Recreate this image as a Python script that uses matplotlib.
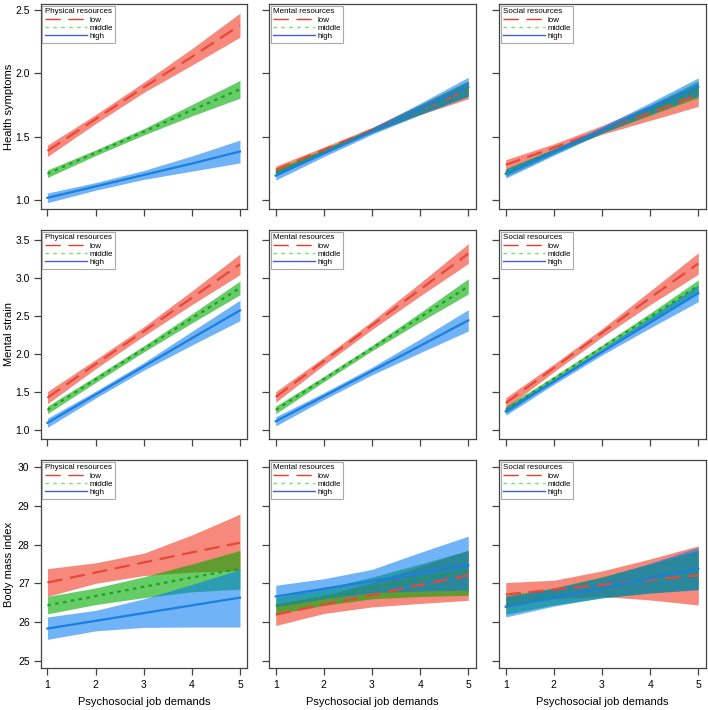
import numpy as np
import matplotlib
matplotlib.use("Agg")
import matplotlib.pyplot as plt
from matplotlib.lines import Line2D

plt.rcParams['font.family'] = ['Liberation Sans', 'DejaVu Sans']
plt.rcParams['lines.scale_dashes'] = False

demands = [1, 2, 3, 4, 5]
levels = ['low', 'middle', 'high']
resources = ['Physical resources', 'Mental resources', 'Social resources']
outcomes = ['Health symptoms', 'Mental strain', 'Body mass index']

# health symptoms: [low, middle, high]
hs_phys_fit = [[1.39, 1.64, 1.89, 2.13, 2.38], [1.21, 1.375, 1.54, 1.71, 1.875], [1.02, 1.11, 1.20, 1.29, 1.385]]
hs_phys_lo = [[1.345, 1.605, 1.85, 2.065, 2.285], [1.18, 1.353, 1.515, 1.665, 1.805], [0.982, 1.08, 1.165, 1.23, 1.295]]
hs_phys_hi = [[1.435, 1.675, 1.93, 2.195, 2.475], [1.24, 1.397, 1.565, 1.755, 1.945], [1.058, 1.14, 1.235, 1.35, 1.475]]
hs_ment_fit = [[1.24, 1.40, 1.555, 1.715, 1.87], [1.22, 1.385, 1.55, 1.715, 1.88], [1.195, 1.37, 1.545, 1.72, 1.895]]
hs_ment_lo = [[1.21, 1.38, 1.535, 1.675, 1.80], [1.195, 1.367, 1.532, 1.68, 1.82], [1.16, 1.345, 1.52, 1.675, 1.82]]
hs_ment_hi = [[1.27, 1.42, 1.575, 1.755, 1.94], [1.245, 1.403, 1.568, 1.75, 1.94], [1.23, 1.395, 1.57, 1.765, 1.97]]
hs_soc_fit = [[1.28, 1.415, 1.555, 1.69, 1.83], [1.22, 1.385, 1.55, 1.71, 1.875], [1.21, 1.38, 1.555, 1.725, 1.895]]
hs_soc_lo = [[1.24, 1.385, 1.52, 1.63, 1.74], [1.19, 1.365, 1.53, 1.67, 1.81], [1.175, 1.355, 1.53, 1.68, 1.825]]
hs_soc_hi = [[1.32, 1.445, 1.59, 1.75, 1.92], [1.25, 1.405, 1.57, 1.75, 1.94], [1.245, 1.405, 1.58, 1.77, 1.965]]

# mental strain
ms_phys_fit = [[1.43, 1.87, 2.30, 2.74, 3.18], [1.27, 1.67, 2.07, 2.47, 2.87], [1.10, 1.47, 1.84, 2.21, 2.575]]
ms_phys_lo = [[1.35, 1.81, 2.24, 2.65, 3.045], [1.22, 1.63, 2.03, 2.41, 2.78], [1.04, 1.425, 1.79, 2.12, 2.44]]
ms_phys_hi = [[1.51, 1.93, 2.36, 2.83, 3.315], [1.32, 1.71, 2.11, 2.53, 2.96], [1.16, 1.515, 1.89, 2.30, 2.71]]
ms_ment_fit = [[1.44, 1.91, 2.38, 2.85, 3.32], [1.27, 1.675, 2.08, 2.485, 2.89], [1.12, 1.45, 1.78, 2.11, 2.445]]
ms_ment_lo = [[1.37, 1.86, 2.325, 2.765, 3.19], [1.22, 1.64, 2.045, 2.425, 2.79], [1.06, 1.405, 1.73, 2.02, 2.305]]
ms_ment_hi = [[1.51, 1.96, 2.435, 2.935, 3.45], [1.32, 1.71, 2.115, 2.545, 2.99], [1.18, 1.495, 1.83, 2.20, 2.585]]
ms_soc_fit = [[1.36, 1.82, 2.28, 2.74, 3.19], [1.27, 1.68, 2.09, 2.49, 2.90], [1.25, 1.64, 2.03, 2.415, 2.80]]
ms_soc_lo = [[1.29, 1.77, 2.225, 2.65, 3.05], [1.225, 1.65, 2.06, 2.44, 2.825], [1.20, 1.605, 1.99, 2.345, 2.69]]
ms_soc_hi = [[1.43, 1.87, 2.335, 2.83, 3.33], [1.315, 1.71, 2.12, 2.54, 2.975], [1.30, 1.675, 2.07, 2.485, 2.91]]

# body mass index
bmi_phys_fit = [[27.02, 27.28, 27.54, 27.80, 28.05], [26.43, 26.67, 26.91, 27.15, 27.38], [25.83, 26.03, 26.23, 26.43, 26.63]]
bmi_phys_lo = [[26.66, 27.0, 27.2, 27.29, 27.33], [26.21, 26.45, 26.63, 26.78, 26.85], [25.55, 25.77, 25.86, 25.87, 25.87]]
bmi_phys_hi = [[27.38, 27.53, 27.78, 28.25, 28.79], [26.66, 26.88, 27.17, 27.5, 27.85], [26.13, 26.3, 26.6, 26.97, 27.36]]
bmi_ment_fit = [[26.19, 26.45, 26.70, 26.96, 27.21], [26.42, 26.65, 26.88, 27.11, 27.34], [26.66, 26.86, 27.06, 27.27, 27.47]]
bmi_ment_lo = [[25.91, 26.22, 26.39, 26.48, 26.56], [26.2, 26.43, 26.6, 26.66, 26.69], [26.39, 26.6, 26.76, 26.8, 26.82]]
bmi_ment_hi = [[26.47, 26.68, 27.02, 27.44, 27.86], [26.64, 26.87, 27.16, 27.5, 27.85], [26.95, 27.12, 27.36, 27.8, 28.22]]
bmi_soc_fit = [[26.71, 26.84, 26.96, 27.09, 27.21], [26.43, 26.66, 26.89, 27.12, 27.35], [26.39, 26.64, 26.89, 27.13, 27.38]]
bmi_soc_lo = [[26.4, 26.6, 26.66, 26.57, 26.44], [26.2, 26.44, 26.62, 26.75, 26.85], [26.13, 26.41, 26.63, 26.75, 26.83]]
bmi_soc_hi = [[27.02, 27.08, 27.32, 27.63, 27.97], [26.68, 26.88, 27.17, 27.5, 27.85], [26.65, 26.87, 27.15, 27.52, 27.93]]

panels = [
    [(hs_phys_fit, hs_phys_lo, hs_phys_hi), (hs_ment_fit, hs_ment_lo, hs_ment_hi), (hs_soc_fit, hs_soc_lo, hs_soc_hi)],
    [(ms_phys_fit, ms_phys_lo, ms_phys_hi), (ms_ment_fit, ms_ment_lo, ms_ment_hi), (ms_soc_fit, ms_soc_lo, ms_soc_hi)],
    [(bmi_phys_fit, bmi_phys_lo, bmi_phys_hi), (bmi_ment_fit, bmi_ment_lo, bmi_ment_hi), (bmi_soc_fit, bmi_soc_lo, bmi_soc_hi)],
]

yticks = [[1.0, 1.5, 2.0, 2.5], [1.0, 1.5, 2.0, 2.5, 3.0, 3.5], [25, 26, 27, 28, 29, 30]]
ylims = [(0.932, 2.547), (0.888, 3.63), (24.81, 30.19)]

line_cols = ['#E8473B', '#1F9F2A', '#1A7FE0']
band_cols = ['#F02810', '#00AA00', '#0078F0']
band_alpha = [0.55, 0.6, 0.56]
leg_cols = ['#E23B2E', '#72DC72', '#4060E0']
styles = [(0, (11, 5.5)), (0, (2.5, 3.2)), '-']

W, H = 708, 710
fig = plt.figure(figsize=(W / 100, H / 100), dpi=100)

col_x = [40.7, 269, 499]
col_w = 206.5
row_top = [4, 230, 460]
row_bot = [209, 439, 668]

spine_col = '#444444'
for r in range(3):
    for c in range(3):
        l = col_x[c] / W
        b = 1 - row_bot[r] / H
        h = (row_bot[r] - row_top[r]) / H
        ax = fig.add_axes([l, b, col_w / W, h])
        fit, lo, hi = panels[r][c]
        for i in range(3):
            ax.fill_between(demands, lo[i], hi[i], color=band_cols[i], alpha=band_alpha[i], lw=0)
        for i in range(3):
            ax.plot(demands, fit[i], color=line_cols[i], lw=1.6, linestyle=styles[i])
        ax.set_xlim(0.86, 5.15)
        ax.set_ylim(*ylims[r])
        ax.set_xticks(demands)
        ax.set_yticks(yticks[r])
        ax.tick_params(direction='out', length=5, width=0.9, color=spine_col, labelsize=7.5, pad=3)
        ax.tick_params(axis='x', pad=4)
        if r < 2:
            ax.tick_params(labelbottom=False)
        else:
            ax.set_xticklabels([str(d) for d in demands])
        if c > 0:
            ax.tick_params(labelleft=False)
        else:
            ax.set_yticklabels([f'{t:.1f}' if r < 2 else str(t) for t in yticks[r]])
        for s in ax.spines.values():
            s.set_color(spine_col)
            s.set_linewidth(0.9)
        handles = [Line2D([], [], color=leg_cols[i], lw=1.0, linestyle=styles[i]) for i in range(3)]
        leg = ax.legend(handles, levels, title=resources[c], loc='upper left', fontsize=5.8,
                        title_fontsize=5.8, alignment='left', frameon=True, fancybox=False,
                        edgecolor='#aaaaaa', framealpha=1, borderpad=0.3, labelspacing=0.05,
                        handlelength=5.2, handletextpad=0.3, borderaxespad=0.2)
        leg.get_frame().set_linewidth(0.8)
        leg._legend_box.sep = 1
        if r == 2:
            xc = (col_x[c] + col_w / 2) / W
            fig.text(xc, 1 - 702 / H, 'Psychosocial job demands', fontsize=8, ha='center', va='center')
    # row label
    yc = 1 - (row_top[r] + row_bot[r]) / 2 / H
    fig.text(9 / W, yc, outcomes[r], rotation=90, fontsize=8, ha='center', va='center')

fig.savefig('out.png', dpi=100)
